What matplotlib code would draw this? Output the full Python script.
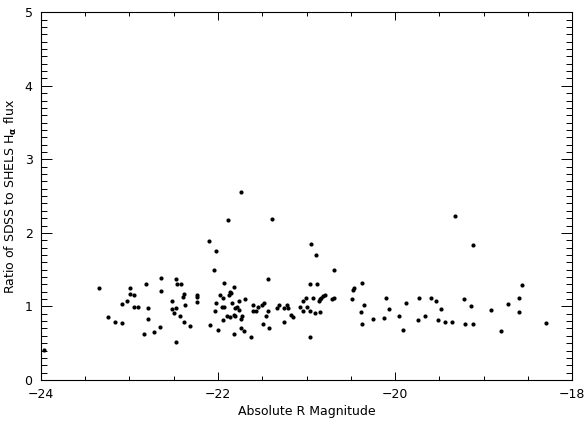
import numpy as np
import matplotlib
matplotlib.use("Agg")
from matplotlib import pyplot as plt
from matplotlib.ticker import MultipleLocator

# absolute R magnitude and SDSS / SHELS H-alpha flux ratio
mag = [-23.97, -23.34, -23.24, -23.16, -23.09, -23.08, -23.03, -22.99, -22.99, -22.95,
       -22.95, -22.90, -22.84, -22.81, -22.79, -22.79, -22.72, -22.66, -22.64, -22.64,
       -22.52, -22.52, -22.50, -22.48, -22.48, -22.47, -22.46, -22.42, -22.43, -22.40,
       -22.38, -22.38, -22.37, -22.32, -22.24, -22.24, -22.24, -22.10, -22.09, -22.05,
       -22.03, -22.02, -22.02, -22.00, -21.98,
       -21.93, -21.94, -21.95, -21.93, -21.94, -21.89, -21.90, -21.88, -21.87, -21.86,
       -21.85, -21.84, -21.82, -21.82, -21.82, -21.81, -21.81, -21.78, -21.76, -21.76,
       -21.74, -21.74, -21.74, -21.73, -21.71, -21.70, -21.63, -21.61, -21.60, -21.57,
       -21.55, -21.50, -21.48, -21.49, -21.46, -21.44, -21.43, -21.42, -21.39, -21.33,
       -21.31, -21.26, -21.25, -21.22, -21.21, -21.18, -21.15, -21.07, -21.04, -21.04,
       -21.01, -21.00, -20.96, -20.96, -20.96, -20.95, -20.93, -20.90, -20.89, -20.88,
       -20.86, -20.85, -20.84, -20.85, -20.81, -20.79, -20.71, -20.69, -20.69, -20.49,
       -20.48, -20.46, -20.38, -20.37, -20.37, -20.35, -20.25, -20.13, -20.10, -20.07,
       -19.95, -19.91, -19.88, -19.74, -19.73, -19.66, -19.59, -19.54, -19.51, -19.48,
       -19.44, -19.36, -19.32, -19.22, -19.21, -19.14, -19.12, -19.12, -18.92, -18.80,
       -18.72, -18.60, -18.60, -18.57, -18.29]
ratio = [0.41, 1.25, 0.86, 0.79, 0.77, 1.03, 1.08, 1.25, 1.17, 1.16,
         0.99, 0.99, 0.63, 1.30, 0.98, 0.83, 0.65, 0.72, 1.39, 1.21,
         1.07, 0.96, 0.91, 1.37, 0.98, 0.51, 1.30, 1.30, 0.87, 1.13,
         1.17, 0.79, 1.02, 0.74, 1.16, 1.13, 1.06, 1.89, 0.75, 1.49,
         0.94, 1.76, 1.05, 0.68, 1.15,
         1.32, 1.11, 0.99, 0.99, 0.81, 2.17, 0.87, 1.15, 1.20, 0.86,
         1.18, 1.05, 1.27, 0.89, 0.62, 0.98, 0.87, 0.99, 1.08, 0.95,
         2.55, 0.83, 0.71, 0.87, 0.67, 1.10, 0.58, 1.02, 0.94, 0.94,
         0.99, 1.02, 1.04, 0.76, 0.87, 1.37, 0.94, 0.70, 2.19, 0.98,
         1.02, 0.98, 0.79, 1.02, 0.98, 0.89, 0.86, 0.99, 1.07, 0.94,
         1.12, 0.99, 1.31, 0.94, 0.58, 1.85, 1.12, 0.91, 1.70, 1.31,
         1.07, 1.10, 1.12, 0.92, 1.14, 1.16, 1.10, 1.12, 1.49, 1.10,
         1.22, 1.25, 0.93, 0.76, 1.32, 1.02, 0.83, 0.84, 1.11, 0.97,
         0.87, 0.68, 1.05, 0.81, 1.11, 0.87, 1.12, 1.07, 0.81, 0.96,
         0.79, 0.79, 2.23, 1.10, 0.76, 1.01, 1.84, 0.76, 0.95, 0.66,
         1.03, 0.93, 1.12, 1.29, 0.78]

fontsize = 9

fig = plt.figure(figsize=(5.85, 4.25), dpi=100)
ax = fig.add_axes([0.070, 0.106, 0.908, 0.865])

ax.plot(mag, ratio, 'o', color='black', ms=3.0, mec='none')

ax.set_xlim(-24, -18)
ax.set_ylim(0, 5)
ax.xaxis.set_major_locator(MultipleLocator(2))
ax.xaxis.set_minor_locator(MultipleLocator(0.5))
ax.yaxis.set_major_locator(MultipleLocator(1))
ax.yaxis.set_minor_locator(MultipleLocator(0.1))

ax.tick_params(axis='both', which='both', direction='in', top=True, right=True,
               labelsize=fontsize, width=0.7, color='black', pad=6)
ax.tick_params(axis='x', which='major', length=5.5)
ax.tick_params(axis='x', which='minor', length=2.8)
ax.tick_params(axis='y', which='major', length=8)
ax.tick_params(axis='y', which='minor', length=4)
for s in ax.spines.values():
    s.set_linewidth(0.8)

ax.set_xlabel('Absolute R Magnitude', fontsize=fontsize, labelpad=3)
ax.set_ylabel(r'Ratio of SDSS to SHELS H$_\mathbf{\alpha}$ flux', fontsize=fontsize, labelpad=4)

plt.savefig('out.png', dpi=100)
